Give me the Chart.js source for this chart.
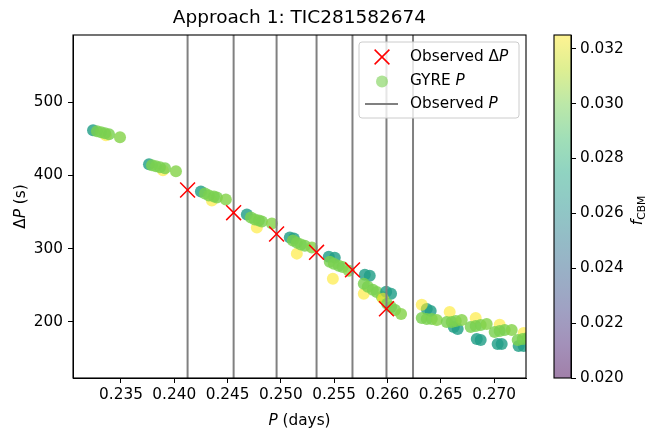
<!DOCTYPE html>
<html>
<head>
<meta charset="utf-8">
<script src="https://cdn.jsdelivr.net/npm/chart.js@4.4.0/dist/chart.umd.min.js"></script>
<style>
  html, body { margin: 0; padding: 0; background: #fff; }
  #wrap { position: relative; width: 653px; height: 430px; }
  #wrap canvas { position: absolute; left: 0; top: 0; }
</style>
</head>
<body>
<div id="wrap">
  <canvas id="main" width="653" height="430"></canvas>
  <canvas id="cbar" width="653" height="430"></canvas>
</div>
<script>
// observed period spacings (red crosses)
const obsP  = [0.24125, 0.24557, 0.2496, 0.25335, 0.25672, 0.25991];
const obsDP = [380, 349, 320, 295, 271, 218];
// observed periods (grey vertical lines)
const obsPeriods = [0.24125, 0.24557, 0.2496, 0.25335, 0.25672, 0.25991, 0.2624];

// GYRE model periods, spacings and f_CBM (one entry per dot)
const gyreP = [
  0.23238, 0.23359, 0.23275, 0.23313, 0.23350, 0.23388, 0.23491,
  0.23763, 0.23894, 0.23791, 0.23828, 0.23866, 0.23913, 0.24016,
  0.24250, 0.24353, 0.24288, 0.24325, 0.24372, 0.24400, 0.24484,
  0.24681, 0.24775, 0.24719, 0.24756, 0.24794, 0.24822, 0.24916,
  0.25084, 0.25122, 0.25150, 0.25113, 0.25150, 0.25188, 0.25225, 0.25291,
  0.25450, 0.25506, 0.25488, 0.25459, 0.25497, 0.25544, 0.25580, 0.25638,
  0.25788, 0.25834, 0.25778, 0.25778, 0.25816, 0.25863, 0.25900, 0.25947,
  0.25988, 0.26034, 0.25959, 0.25997, 0.26034, 0.26072, 0.26128,
  0.26369, 0.26406, 0.26322, 0.26322, 0.26369, 0.26416, 0.26463,
  0.26622, 0.26659, 0.26584, 0.26556, 0.26603, 0.26641, 0.26697,
  0.26838, 0.26875, 0.26828, 0.26781, 0.26828, 0.26875, 0.26931,
  0.27034, 0.27072, 0.27053, 0.27006, 0.27053, 0.27100, 0.27166,
  0.27231, 0.27278, 0.27278, 0.27222, 0.27269, 0.27316
];
const gyreDP = [
  461.6, 454.8, 460.3, 458.9, 457.5, 456.2, 452.1,
  415.1, 406.8, 413.7, 412.3, 411.0, 409.6, 405.5,
  378.1, 365.8, 375.3, 372.6, 371.2, 369.9, 367.1,
  346.6, 328.8, 342.5, 339.7, 338.4, 337.0, 334.2,
  315.1, 313.7, 293.2, 311.0, 308.2, 305.5, 304.1, 301.4,
  289.0, 287.7, 258.9, 282.2, 279.5, 276.7, 275.0, 269.9,
  264.4, 263.0, 238.4, 252.1, 248.0, 243.8, 241.0, 234.2,
  241.1, 238.4, 231.5, 224.7, 220.5, 216.4, 210.9,
  217.8, 215.0, 223.3, 205.5, 204.1, 204.1, 202.7,
  193.2, 190.4, 213.7, 200.0, 200.0, 201.4, 202.7,
  176.7, 175.3, 205.5, 193.2, 194.5, 195.9, 197.3,
  169.9, 169.9, 196.0, 186.3, 187.7, 189.0, 189.0,
  167.1, 167.1, 184.9, 175.3, 176.7, 178.1
];
const gyreF = [
  0.027, 0.0325, 0.030, 0.030, 0.030, 0.030, 0.0302,
  0.027, 0.0325, 0.030, 0.030, 0.030, 0.030, 0.0302,
  0.027, 0.0325, 0.030, 0.030, 0.030, 0.030, 0.0302,
  0.027, 0.0325, 0.030, 0.030, 0.030, 0.030, 0.0302,
  0.027, 0.027, 0.0325, 0.030, 0.030, 0.030, 0.030, 0.0302,
  0.027, 0.027, 0.0325, 0.030, 0.030, 0.030, 0.030, 0.0302,
  0.027, 0.027, 0.0325, 0.030, 0.030, 0.030, 0.030, 0.0302,
  0.027, 0.027, 0.0325, 0.030, 0.030, 0.030, 0.0302,
  0.027, 0.027, 0.0325, 0.030, 0.030, 0.030, 0.0302,
  0.027, 0.027, 0.0325, 0.030, 0.030, 0.030, 0.0302,
  0.027, 0.027, 0.0325, 0.030, 0.030, 0.030, 0.0302,
  0.027, 0.027, 0.0325, 0.030, 0.030, 0.030, 0.0302,
  0.027, 0.027, 0.0325, 0.030, 0.030, 0.030
];

const xTicks  = [0.235, 0.240, 0.245, 0.250, 0.255, 0.260, 0.265, 0.270];
const yTicks  = [200, 300, 400, 500];
const cbTicks = [0.020, 0.022, 0.024, 0.026, 0.028, 0.030, 0.032];

const xMin = 0.2305, xMax = 0.2730;
const yMin = 123.5, yMax = 591.5;
const cbMin = 0.020, cbMax = 0.0325;

const FONT = '"DejaVu Sans", sans-serif';
const FS = 15.3;

// viridis colormap
const VIR = ['#440154','#482475','#414487','#355f8d','#2a788e','#21918c',
             '#22a884','#44bf70','#7ad151','#bddf26','#fde725'];
function hex(h) { return [1, 3, 5].map(i => parseInt(h.substr(i, 2), 16)); }
function viridis(t, a) {
  t = Math.max(0, Math.min(1, t));
  const s = t * 10, i = Math.min(9, Math.floor(s)), f = s - i;
  const c0 = hex(VIR[i]), c1 = hex(VIR[i + 1]);
  const c = c0.map((v, k) => Math.round(v + (c1[k] - v) * f));
  return `rgba(${c[0]},${c[1]},${c[2]},${a})`;
}
const norm = f => (f - cbMin) / (cbMax - cbMin);

// text with italic / subscript pieces
function drawRich(ctx, parts, x, y, rot, align) {
  ctx.save();
  ctx.translate(x, y);
  ctx.rotate(rot || 0);
  ctx.textBaseline = 'middle';
  ctx.textAlign = 'left';
  ctx.fillStyle = '#000';
  const fontOf = p => (p.i ? 'italic ' : '') + (p.sub ? FS * 0.7 : FS) + 'px ' + FONT;
  let w = 0;
  parts.forEach(p => { ctx.font = fontOf(p); p.w = ctx.measureText(p.t).width; w += p.w; });
  let cx = align === 'left' ? 0 : -w / 2;
  parts.forEach(p => {
    ctx.font = fontOf(p);
    ctx.fillText(p.t, cx, p.sub ? FS * 0.28 : 0);
    cx += p.w;
  });
  ctx.restore();
}

const framePlugin = {
  id: 'frame',
  afterDraw(chart) {
    const { ctx, chartArea: a } = chart;
    ctx.save();
    ctx.strokeStyle = '#000';
    ctx.lineWidth = 1.1;
    ctx.strokeRect(a.left, a.top, a.right - a.left, a.bottom - a.top);
    ctx.restore();
  }
};

// grey lines go over the GYRE dots but under the crosses
const vlinePlugin = {
  id: 'vlines',
  afterDatasetDraw(chart, args) {
    if (args.index !== 1) return;
    const { ctx, chartArea: a, scales: { x } } = chart;
    ctx.save();
    ctx.beginPath();
    ctx.rect(a.left, a.top, a.right - a.left, a.bottom - a.top);
    ctx.clip();
    ctx.strokeStyle = '#808080';
    ctx.lineWidth = 2;
    obsPeriods.forEach(p => {
      const px = x.getPixelForValue(p);
      ctx.beginPath();
      ctx.moveTo(px, a.top);
      ctx.lineTo(px, a.bottom);
      ctx.stroke();
    });
    ctx.restore();
  }
};

const labelPlugin = {
  id: 'labels',
  afterDraw(chart) {
    const { ctx, chartArea: a } = chart;
    drawRich(ctx, [{ t: 'P', i: true }, { t: ' (days)' }], (a.left + a.right) / 2, 421);
    drawRich(ctx, [{ t: 'Δ' }, { t: 'P', i: true }, { t: ' (s)' }], 21, (a.top + a.bottom) / 2, -Math.PI / 2);

    // legend
    const w = 160, h = 76, r = a.right - 7, l = r - w, t = a.top + 7;
    ctx.save();
    ctx.beginPath();
    ctx.roundRect(l, t, w, h, 3);
    ctx.fillStyle = 'rgba(255,255,255,0.8)';
    ctx.fill();
    ctx.strokeStyle = '#cccccc';
    ctx.lineWidth = 1;
    ctx.stroke();
    const mx = l + 23, tx = l + 51, rows = [t + 15, t + 39.5, t + 62];
    const d = 7.4;
    ctx.strokeStyle = '#ff0000';
    ctx.lineWidth = 1.5;
    ctx.beginPath();
    ctx.moveTo(mx - d, rows[0] - d); ctx.lineTo(mx + d, rows[0] + d);
    ctx.moveTo(mx + d, rows[0] - d); ctx.lineTo(mx - d, rows[0] + d);
    ctx.stroke();
    ctx.fillStyle = viridis(norm(0.030), 0.6);
    ctx.beginPath();
    ctx.arc(mx, rows[1], 6, 0, Math.PI * 2);
    ctx.fill();
    ctx.strokeStyle = '#808080';
    ctx.lineWidth = 2;
    ctx.beginPath();
    ctx.moveTo(l + 6, rows[2]); ctx.lineTo(l + 39, rows[2]);
    ctx.stroke();
    ctx.restore();
    drawRich(ctx, [{ t: 'Observed Δ' }, { t: 'P', i: true }], tx, rows[0], 0, 'left');
    drawRich(ctx, [{ t: 'GYRE ' }, { t: 'P', i: true }], tx, rows[1], 0, 'left');
    drawRich(ctx, [{ t: 'Observed ' }, { t: 'P', i: true }], tx, rows[2], 0, 'left');
  }
};

const tickFont = { family: FONT, size: FS };

new Chart(document.getElementById('main'), {
  type: 'scatter',
  data: {
    datasets: [
      {
        label: 'Observed ΔP',
        data: obsP.map((p, i) => ({ x: p, y: obsDP[i] })),
        pointStyle: 'crossRot',
        pointRadius: 10.5,
        borderColor: '#ff0000',
        backgroundColor: '#ff0000',
        borderWidth: 1.5,
        order: 0
      },
      {
        label: 'GYRE P',
        data: gyreP.map((p, i) => ({ x: p, y: gyreDP[i] })),
        pointRadius: 6,
        borderWidth: 0,
        backgroundColor: gyreF.map(f => viridis(norm(f), f > 0.032 ? 0.6 : 0.82)),
        order: 1,
        clip: 0
      }
    ]
  },
  options: {
    responsive: false,
    animation: false,
    events: [],
    layout: { padding: { left: 0, right: 127, top: 0, bottom: 0 } },
    plugins: {
      legend: { display: false },
      tooltip: { enabled: false },
      title: {
        display: true,
        fullSize: false,
        text: 'Approach 1: TIC281582674',
        color: '#000',
        font: { family: FONT, size: 18.5, weight: 'normal' },
        padding: { top: 7, bottom: 5.8 }
      }
    },
    scales: {
      x: {
        type: 'linear',
        min: xMin,
        max: xMax,
        afterBuildTicks: s => { s.ticks = xTicks.map(v => ({ value: v })); },
        afterFit: s => { s.height = 52; },
        ticks: { callback: v => v.toFixed(3), color: '#000', font: tickFont, padding: 3, maxRotation: 0 },
        grid: { drawOnChartArea: false, tickLength: 5, tickColor: '#000', tickWidth: 1 },
        border: { color: '#000', width: 1 }
      },
      y: {
        type: 'linear',
        min: yMin,
        max: yMax,
        afterBuildTicks: s => { s.ticks = yTicks.map(v => ({ value: v })); },
        afterFit: s => { s.width = 73; },
        ticks: { callback: v => String(v), color: '#000', font: tickFont, padding: 5 },
        grid: { drawOnChartArea: false, tickLength: 5, tickColor: '#000', tickWidth: 1 },
        border: { color: '#000', width: 1 }
      }
    }
  },
  plugins: [vlinePlugin, framePlugin, labelPlugin]
});

// colour bar
const cbTitlePlugin = {
  id: 'cbTitle',
  afterDraw(chart) {
    const a = chart.chartArea;
    drawRich(chart.ctx, [{ t: 'f', i: true }, { t: 'CBM', sub: true }], 638, (a.top + a.bottom) / 2 + 4, -Math.PI / 2);
  }
};

new Chart(document.getElementById('cbar'), {
  type: 'bar',
  data: {
    labels: [''],
    datasets: [{
      data: [[cbMin, cbMax]],
      barPercentage: 1,
      categoryPercentage: 1,
      borderWidth: 0,
      backgroundColor: c => {
        const a = c.chart.chartArea;
        if (!a) return 'transparent';
        const g = c.chart.ctx.createLinearGradient(0, a.bottom, 0, a.top);
        for (let i = 0; i <= 20; i++) g.addColorStop(i / 20, viridis(i / 20, 0.5));
        return g;
      }
    }]
  },
  options: {
    responsive: false,
    animation: false,
    events: [],
    layout: { padding: { left: 554, right: 0, top: 35, bottom: 52 } },
    plugins: { legend: { display: false }, tooltip: { enabled: false } },
    scales: {
      x: { display: false },
      y: {
        position: 'right',
        min: cbMin,
        max: cbMax,
        afterBuildTicks: s => { s.ticks = cbTicks.map(v => ({ value: v })); },
        afterFit: s => { s.width = 82; },
        ticks: { callback: v => v.toFixed(3), color: '#000', font: tickFont, padding: 4 },
        grid: { drawOnChartArea: false, tickLength: 5, tickColor: '#000', tickWidth: 1 },
        border: { color: '#000', width: 1 }
      }
    }
  },
  plugins: [framePlugin, cbTitlePlugin]
});
</script>
</body>
</html>
